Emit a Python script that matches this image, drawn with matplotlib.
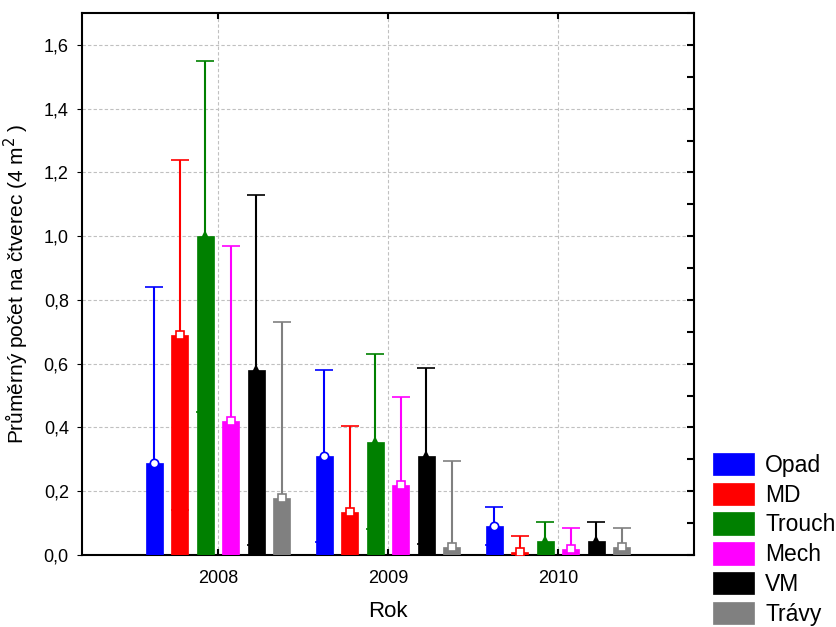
import matplotlib.pyplot as plt
import numpy as np
from matplotlib.ticker import FuncFormatter, MultipleLocator

plt.rcParams['font.family'] = ['Liberation Sans', 'DejaVu Sans']

# Data
years = ['2008', '2009', '2010']
groups = ['Opad', 'MD', 'Trouch', 'Mech', 'VM', 'Trávy']
colors = ['#0000ff', '#ff0000', '#008000', '#ff00ff', '#000000', '#808080']
markers = ['o', 's', '^', 's', '^', 's']

opad = [0.29, 0.31, 0.09]
md = [0.69, 0.135, 0.01]
trouch = [1.00, 0.355, 0.045]
mech = [0.42, 0.22, 0.02]
vm = [0.58, 0.31, 0.045]
travy = [0.18, 0.025, 0.025]

# upper ends of the error bars
opad_hi = [0.84, 0.58, 0.15]
md_hi = [1.24, 0.405, 0.06]
trouch_hi = [1.55, 0.63, 0.105]
mech_hi = [0.97, 0.495, 0.085]
vm_hi = [1.13, 0.585, 0.105]
travy_hi = [0.73, 0.295, 0.085]

means = [opad, md, trouch, mech, vm, travy]
highs = [opad_hi, md_hi, trouch_hi, mech_hi, vm_hi, travy_hi]

fig = plt.figure(figsize=(8.36, 6.27), dpi=100)
ax = fig.add_axes([82/836, 1 - 555/627, 612/836, 542/627])

x = np.arange(len(years))
width = 0.1
offsets = [-0.375, -0.225, -0.075, 0.075, 0.225, 0.375]

for name, m, hi, c, mk, off in zip(groups, means, highs, colors, markers, offsets):
    m = np.array(m)
    err = np.array(hi) - m
    ax.bar(x + off, m, width, color=c, edgecolor=c, linewidth=0.5, label=name, zorder=3)
    face = c if mk == '^' else 'white'
    ax.errorbar(x + off, m, yerr=err, fmt=mk, color=c, ecolor=c, elinewidth=1.5,
                capsize=6.8, capthick=1.5, markersize=6, markerfacecolor=face,
                markeredgecolor=c, markeredgewidth=1.2, zorder=4)

ax.set_xlim(-0.8, 2.8)
ax.set_ylim(0, 1.7)
ax.set_xticks(x)
ax.set_xticklabels(years)
ax.yaxis.set_major_locator(MultipleLocator(0.2))
ax.yaxis.set_major_formatter(FuncFormatter(lambda v, p: f'{v:.1f}'.replace('.', ',')))

ax.grid(True, color='#c0c0c0', linestyle=(0, (3, 2)), linewidth=0.8, zorder=0)

for s in ax.spines.values():
    s.set_linewidth(1.5)

ax.tick_params(axis='x', direction='in', length=4, width=1.5, top=True, pad=11, labelsize=13)
ax.tick_params(axis='y', which='both', left=False, labelsize=13, pad=6)

# ticks on the right side, every 0.1
ax2 = ax.twinx()
ax2.set_ylim(0, 1.7)
ax2.yaxis.set_major_locator(MultipleLocator(0.1))
ax2.tick_params(axis='y', direction='in', length=5, width=1.5, labelright=False)
for s in ax2.spines.values():
    s.set_visible(False)

ax.set_xlabel('Rok', fontsize=16, labelpad=10)
ax.set_ylabel('Průměrný počet na čtverec (4 m$^2$ )', fontsize=15, labelpad=9)

fig.legend(loc='upper left', bbox_to_anchor=(713/836, 1 - 453/627), frameon=False,
           fontsize=16.5, handlelength=1.8, handleheight=1.13, labelspacing=0.25,
           handletextpad=0.48, borderpad=0, borderaxespad=0)

plt.savefig('out.png', dpi=100)
